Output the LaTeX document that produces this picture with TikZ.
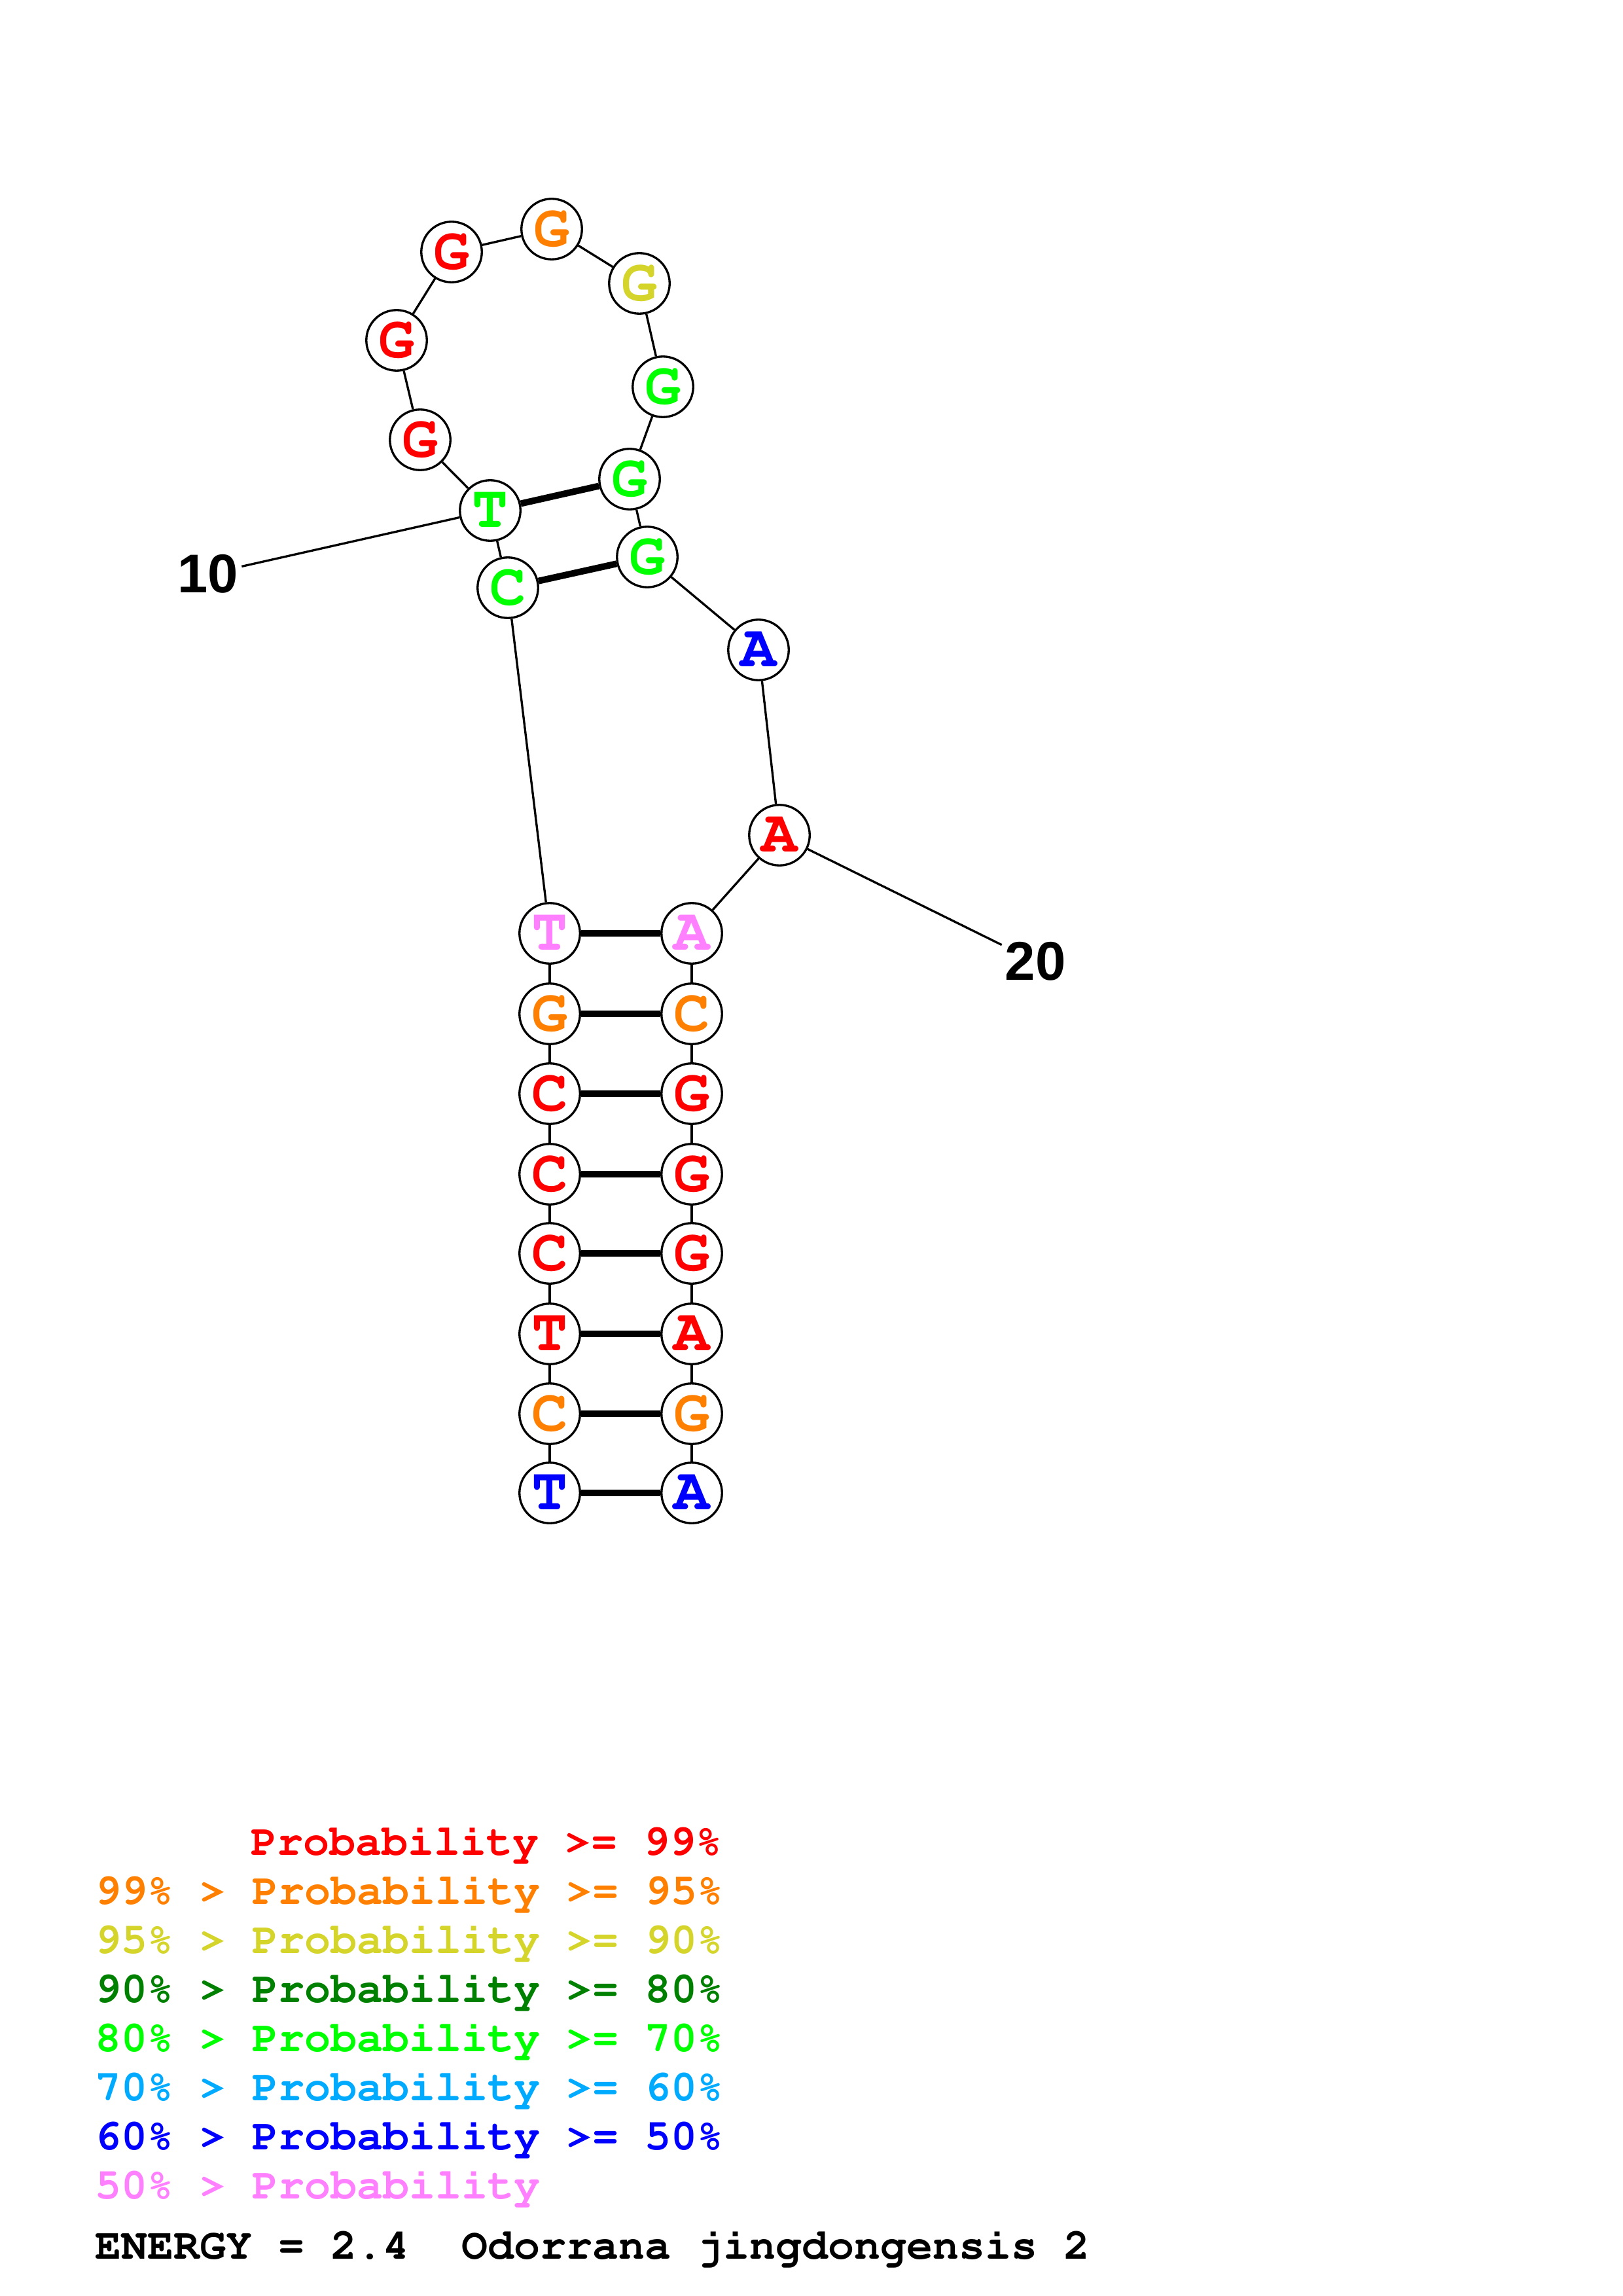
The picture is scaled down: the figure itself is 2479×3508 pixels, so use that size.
\documentclass[tikz,border=0pt]{standalone}
\usepackage[T1,TU]{fontenc}
\usepackage{fontspec}
\usepackage{tikz}
\usetikzlibrary{positioning}
\newfontfamily\numfont{Liberation Sans}
\newcommand\basefont{\fontencoding{T1}\fontfamily{pcr}\fontseries{b}\selectfont}

\definecolor{pninetynine}{RGB}{255,0,0}
\definecolor{pninetyfive}{RGB}{255,128,0}
\definecolor{pninety}{RGB}{212,212,42}
\definecolor{peighty}{RGB}{0,128,0}
\definecolor{pseventy}{RGB}{0,255,0}
\definecolor{psixty}{RGB}{0,170,255}
\definecolor{pfifty}{RGB}{0,0,255}
\definecolor{plow}{RGB}{255,128,255}

\begin{document}
\begin{tikzpicture}[x=0.24pt,y=-0.24pt,
    base/.style={circle,draw,line width=0.8pt,fill=white,minimum size=22.2pt,inner sep=0pt,
      font=\fontsize{22}{22}\basefont},
    backbone/.style={line width=0.8pt},
    pair/.style={line width=2.4pt},
    numlabel/.style={inner sep=1pt,font=\numfont\bfseries\fontsize{20}{20}\selectfont},
    legend/.style={anchor=base west,inner sep=0pt,font=\fontsize{16}{16}\basefont}]
      \useasboundingbox (0,0) rectangle (2479,3508);
      % left strand of the stem
      \node[base,text=pfifty] (b1) at (840,2281) {T};
      \node[base,text=pninetyfive] (b2) at (840,2160) {C};
      \node[base,text=pninetynine] (b3) at (840,2038) {T};
      \node[base,text=pninetynine] (b4) at (840,1915) {C};
      \node[base,text=pninetynine] (b5) at (840,1794) {C};
      \node[base,text=pninetynine] (b6) at (840,1671) {C};
      \node[base,text=pninetyfive] (b7) at (840,1549) {G};
      \node[base,text=plow] (b8) at (840,1426) {T};
      % hairpin
      \node[base,text=pseventy] (b9) at (776,898) {C};
      \node[base,text=pseventy] (b10) at (749,780) {T};
      \node[base,text=pninetynine] (b11) at (642,672) {G};
      \node[base,text=pninetynine] (b12) at (606,520) {G};
      \node[base,text=pninetynine] (b13) at (690,385) {G};
      \node[base,text=pninetyfive] (b14) at (843,350) {G};
      \node[base,text=pninety] (b15) at (977,433) {G};
      \node[base,text=pseventy] (b16) at (1013,591) {G};
      \node[base,text=pseventy] (b17) at (962,732) {G};
      \node[base,text=pseventy] (b18) at (989,851) {G};
      \node[base,text=pfifty] (b19) at (1159,993) {A};
      \node[base,text=pninetynine] (b20) at (1191,1276) {A};
      % right strand of the stem
      \node[base,text=plow] (b21) at (1057,1426) {A};
      \node[base,text=pninetyfive] (b22) at (1057,1549) {C};
      \node[base,text=pninetynine] (b23) at (1057,1671) {G};
      \node[base,text=pninetynine] (b24) at (1057,1794) {G};
      \node[base,text=pninetynine] (b25) at (1057,1915) {G};
      \node[base,text=pninetynine] (b26) at (1057,2038) {A};
      \node[base,text=pninetyfive] (b27) at (1057,2160) {G};
      \node[base,text=pfifty] (b28) at (1057,2281) {A};
      \foreach \i [evaluate=\i as \j using int(\i+1)] in {1,...,27}
        \draw[backbone] (b\i) -- (b\j);
      \foreach \i/\j in {1/28,2/27,3/26,4/25,5/24,6/23,7/22,8/21,9/18,10/17}
        \draw[pair] (b\i) -- (b\j);
      % position marks
      \node[numlabel] (n10) at (318,877) {10};
      \draw[backbone] (n10) -- (b10);
      \node[numlabel] (n20) at (1582,1469) {20};
      \draw[backbone] (n20) -- (b20);
      % legend
      \node[legend,text=pninetynine] (l1) at (383,2834) {Probability >= 99\%};
      \node[legend,text=pninetyfive] (l2) at (145,2909) {99\% > Probability >= 95\%};
      \node[legend,text=pninety] (l3) at (145,2984) {95\% > Probability >= 90\%};
      \node[legend,text=peighty] (l4) at (145,3059) {90\% > Probability >= 80\%};
      \node[legend,text=pseventy] (l5) at (145,3134) {80\% > Probability >= 70\%};
      \node[legend,text=psixty] (l6) at (145,3209) {70\% > Probability >= 60\%};
      \node[legend,text=pfifty] (l7) at (145,3284) {60\% > Probability >= 50\%};
      \node[legend,text=plow] (l8) at (145,3359) {50\% > Probability};
      \node[legend] (energy) at (145,3451) {ENERGY = 2.4\ \ Odorrana jingdongensis 2};
\end{tikzpicture}
\end{document}
